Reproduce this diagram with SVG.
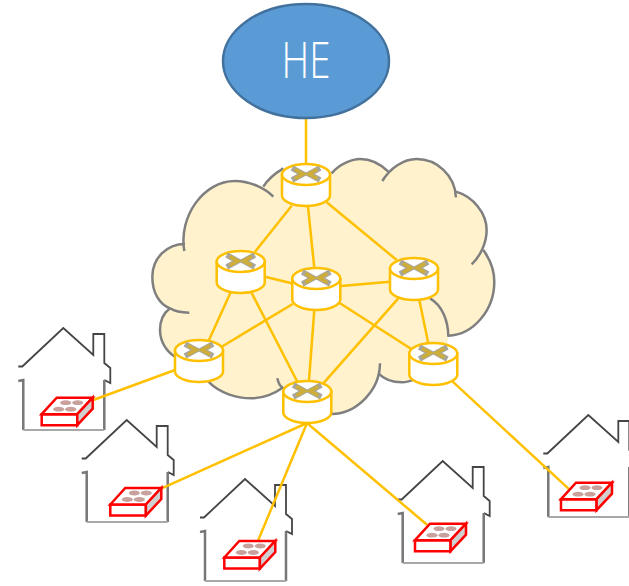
<svg xmlns="http://www.w3.org/2000/svg" width="629" height="586" viewBox="0 0 629 586">
<style>
.cloud{fill:#FFF2CC;stroke:none}
.cloudline{fill:none;stroke:#7F7F7F;stroke-width:7.500;stroke-linecap:butt}
.link{stroke:#FFC000;stroke-width:2.500;fill:none}
.rbody{fill:#fff;stroke:#FFC000;stroke-width:2.500}
.ig{fill:none;stroke:#A9A69A;stroke-width:5.600}
.iy{fill:none;stroke:#CFAE38;stroke-width:3.600}
.roof{fill:none;stroke:#444;stroke-width:1.800}
.wall{fill:none;stroke:#777;stroke-width:2.500}
.floor{fill:none;stroke:#A8A8A8;stroke-width:1.800}
.dev{stroke:#FF0000;stroke-width:2.500;stroke-linejoin:miter}
.he{fill:#5B9BD5;stroke:#41719C;stroke-width:2.500}
.het{fill:#fff;font-family:"Open Sans","Noto Sans",sans-serif;font-weight:300;font-size:49px;text-anchor:middle}
</style>
<defs>
<filter id="soft" filterUnits="userSpaceOnUse" x="-60" y="-10" width="130" height="125"><feGaussianBlur stdDeviation="0.4"/></filter>
<filter id="soft2" x="-20%" y="-20%" width="140%" height="140%"><feGaussianBlur stdDeviation="0.6"/></filter>
<filter id="soft3" x="-20%" y="-20%" width="140%" height="140%"><feGaussianBlur stdDeviation="0.4"/></filter>
<g id="router">
<path class="rbody" d="M-24,10.500V31.500A24,10.500 0 0 0 24,31.500V10.500Z"/>
<ellipse class="rbody" cx="0" cy="10.500" rx="24" ry="10.500"/>
<g filter="url(#soft2)">
<path class="ig" d="M-14,4L-3,10L-14,16"/>
<path class="ig" d="M14,4L3,10L14,16"/>
<path class="iy" d="M-11,5.500L-3,10L-11,14.500"/>
<path class="iy" d="M11,5.500L3,10L11,14.500"/>
</g>
</g>
<g id="house" filter="url(#soft)">
<path class="roof" d="M-45,38.500H-41L0,0L30,27V6H41V35L47,40V55L41,52"/>
<path class="wall" d="M41,52V102M-40,102V52L-45,53"/>
<path class="floor" d="M-40,102H41"/>
</g>
<g id="device">
<path fill="#fff" class="dev" d="M0,16.500H35.600V27.500H0Z"/>
<path fill="#fff" class="dev" d="M0,16.500L15,0H51L35.600,16.500Z"/>
<path fill="#D0D0D0" class="dev" d="M35.600,16.500L51,0V11L35.600,27.500Z"/>
<g filter="url(#soft3)" fill="#C8A09C">
<ellipse cx="17" cy="11.500" rx="5.500" ry="2.400"/>
<ellipse cx="29" cy="11.500" rx="5.500" ry="2.400"/>
<ellipse cx="24" cy="5" rx="5.500" ry="2.400"/>
<ellipse cx="36" cy="5" rx="5.500" ry="2.400"/>
</g>
</g>
</defs>
<g id="cloud" transform="translate(140,140) scale(0.3333)">
<path class="cloud" d="M133,330C115,230,190,123,285,123C320,123,350,130,370,140C385,115,405,100,430,85L575,100C600,70,640,57,660,57C695,57,725,75,745,95C765,70,800,57,830,57C890,57,945,105,948,155C1000,170,1040,220,1040,270C1040,290,1035,315,1030,330C1055,365,1063,395,1063,425C1063,510,1000,585,925,587C925,630,880,700,830,715C815,722,800,727,785,727C760,727,735,720,715,700C690,780,640,822,575,822L430,742C405,760,370,775,335,775C290,775,240,760,205,725L105,650C80,635,60,605,60,570C60,545,70,520,90,505C60,495,37,460,37,410C37,355,80,312,135,312Z"/>
<path class="cloudline" d="M133,333C115,230,190,123,285,123C330,123,375,145,400,170"/>
<path class="cloudline" d="M370,140C385,115,405,100,430,85"/>
<path class="cloudline" d="M575,100C600,70,640,57,660,57C695,57,725,75,745,95"/>
<path class="cloudline" d="M727,123C750,85,790,57,830,57C890,57,945,105,948,172"/>
<path class="cloudline" d="M948,155C1000,170,1040,220,1040,270C1040,310,1020,350,995,373"/>
<path class="cloudline" d="M1030,330C1055,365,1063,395,1063,425C1063,510,1000,585,925,587"/>
<path class="cloudline" d="M870,475C905,495,925,540,925,590"/>
<path class="cloudline" d="M720,670C720,750,650,822,575,822"/>
<path class="cloudline" d="M715,700C735,720,760,727,785,727C800,727,815,722,830,715"/>
<path class="cloudline" d="M412,715C415,730,420,740,430,745"/>
<path class="cloudline" d="M205,725C240,760,290,775,335,775C370,775,405,760,430,742"/>
<path class="cloudline" d="M90,505C70,520,60,545,60,570C60,605,80,635,105,650"/>
<path class="cloudline" d="M135,312C80,312,37,355,37,410C37,460,60,495,90,505C105,515,125,518,148,518"/>
</g>
<g id="house1"><use href="#house" x="63.300" y="328"/></g>
<g id="house2"><use href="#house" x="126.700" y="420"/></g>
<g id="house3"><use href="#house" x="245" y="479"/></g>
<g id="house4"><use href="#house" x="442.700" y="461"/></g>
<g id="house5"><use href="#house" x="588.300" y="415"/></g>
<g id="connectors">
<path class="link" d="M306,119V164"/>
<path class="link" d="M291.700,205.700L255,251.700"/>
<path class="link" d="M308,206.700L314.300,268"/>
<path class="link" d="M326.700,202.300L396.700,260"/>
<path class="link" d="M265,276.700L291.700,283.300"/>
<path class="link" d="M341,286L390,281.700"/>
<path class="link" d="M230.700,292.300L209,340"/>
<path class="link" d="M251,291.700L297.300,381.700"/>
<path class="link" d="M292.700,304L221.700,346.700"/>
<path class="link" d="M314.300,310L309,380.700"/>
<path class="link" d="M340,303.300L411.700,349.300"/>
<path class="link" d="M398.300,298.300L323.300,383.300"/>
<path class="link" d="M419.300,300L428.300,343.300"/>
<path class="link" d="M175,370L93.300,400"/>
<path class="link" d="M452.700,381.700L569.300,489.300"/>
<path class="link" d="M307,423L161.700,488.300"/>
<path class="link" d="M307,423L258.300,540"/>
<path class="link" d="M307,423L427.300,525"/>
</g>
<g id="he"><ellipse class="he" cx="306" cy="61" rx="83" ry="57"/><text class="het" x="306" y="78" textLength="49" lengthAdjust="spacingAndGlyphs">HE</text></g>
<g id="router1"><use href="#router" x="306" y="164"/></g>
<g id="router2"><use href="#router" x="240.700" y="251"/></g>
<g id="router3"><use href="#router" x="316.300" y="268"/></g>
<g id="router4"><use href="#router" x="414" y="258"/></g>
<g id="router5"><use href="#router" x="199" y="340"/></g>
<g id="router6"><use href="#router" x="307.300" y="381"/></g>
<g id="router7"><use href="#router" x="433.300" y="343"/></g>
<g id="device1"><use href="#device" x="41.700" y="397.700"/></g>
<g id="device2"><use href="#device" x="110.300" y="488"/></g>
<g id="device3"><use href="#device" x="224.300" y="541"/></g>
<g id="device4"><use href="#device" x="415" y="523.700"/></g>
<g id="device5"><use href="#device" x="561" y="482.700"/></g>
</svg>
